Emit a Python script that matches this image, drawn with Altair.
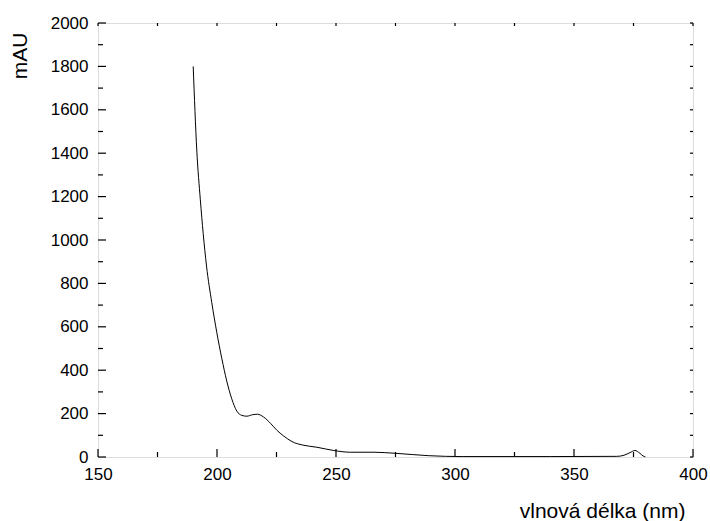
import altair as alt
import pandas as pd

# spectrum
wavelength = [190, 191.5, 193, 194.2, 195.6, 197.8, 199.9, 202, 204.1, 206.2, 208.3,
              210.4, 212.5, 215, 217, 219.5, 222.5, 225, 228, 231.5, 236, 242, 249,
              256, 266, 275, 289, 303, 340, 368, 371, 373.5, 375.6, 377.7, 379, 380]
mau = [1800, 1415, 1185, 1030, 880, 712, 575, 455, 350, 268, 212,
       192, 188, 195, 197, 185, 155, 125, 97, 71, 55, 45, 30,
       22, 22, 17, 6, 2, 2, 3, 8, 20, 30, 17, 5, 1]

x_major = [150, 200, 250, 300, 350, 400]
x_minor = [175, 225, 275, 325, 375]
y_major = [0, 200, 400, 600, 800, 1000, 1200, 1400, 1600, 1800, 2000]
y_minor = [100, 300, 500, 700, 900, 1100, 1300, 1500, 1700, 1900]

W, H = 595, 434
FONT = "Liberation Sans"

df = pd.DataFrame({"wl": wavelength, "mau": mau})
xs = alt.Scale(domain=[150, 400], nice=False)
ys = alt.Scale(domain=[0, 2000], nice=False)

line = alt.Chart(df).mark_line(color="black", strokeWidth=1, interpolate="monotone").encode(
    x=alt.X("wl:Q", scale=xs,
            axis=alt.Axis(values=x_major, format="d", ticks=False, domain=False, grid=False,
                          labelFlush=False, labelOverlap=False,
                          labelFontSize=17, labelPadding=9, labelColor="black", labelFont=FONT,
                          title="vlnová délka (nm)", titleFont=FONT, titleFontSize=21,
                          titleFontWeight="normal", titleColor="black",
                          titleAnchor="end", titleAlign="right", titleBaseline="middle",
                          titleX=W - 8, titleY=54)),
    y=alt.Y("mau:Q", scale=ys,
            axis=alt.Axis(values=y_major, format="d", ticks=False, domain=False, grid=False,
                          labelFlush=False, labelOverlap=False,
                          labelFontSize=17, labelPadding=10, labelColor="black", labelFont=FONT,
                          title="mAU", titleFont=FONT, titleFontSize=21,
                          titleFontWeight="normal", titleColor="black",
                          titleAngle=270, titleAlign="right", titleBaseline="middle",
                          titleX=-78, titleY=9)),
)

def xticks(vals, y0, y1):
    return alt.Chart(pd.DataFrame({"v": vals})).mark_rule(color="black", strokeWidth=1.2).encode(
        x=alt.X("v:Q", scale=xs), y=alt.value(y0), y2=alt.value(y1))

def yticks(vals, x0, x1):
    return alt.Chart(pd.DataFrame({"v": vals})).mark_rule(color="black", strokeWidth=1.2).encode(
        y=alt.Y("v:Q", scale=ys), x=alt.value(x0), x2=alt.value(x1))

chart = alt.layer(
    xticks(x_major, H, H - 8),
    xticks(x_minor, H, H - 5),
    xticks(x_major + x_minor, 0, 3),
    yticks(y_major, 0, 8),
    yticks(y_minor, 0, 5),
    yticks(y_major + y_minor, W, W - 3),
    line,
).properties(
    width=W, height=H,
    autosize=alt.AutoSizeParams(type="none"),
    padding={"left": 98, "top": 23, "right": 17, "bottom": 64},
).configure_view(stroke="black", strokeWidth=1.6).configure(background="white")

chart.save("out.html", embed_options={"renderer": "svg", "actions": False})
